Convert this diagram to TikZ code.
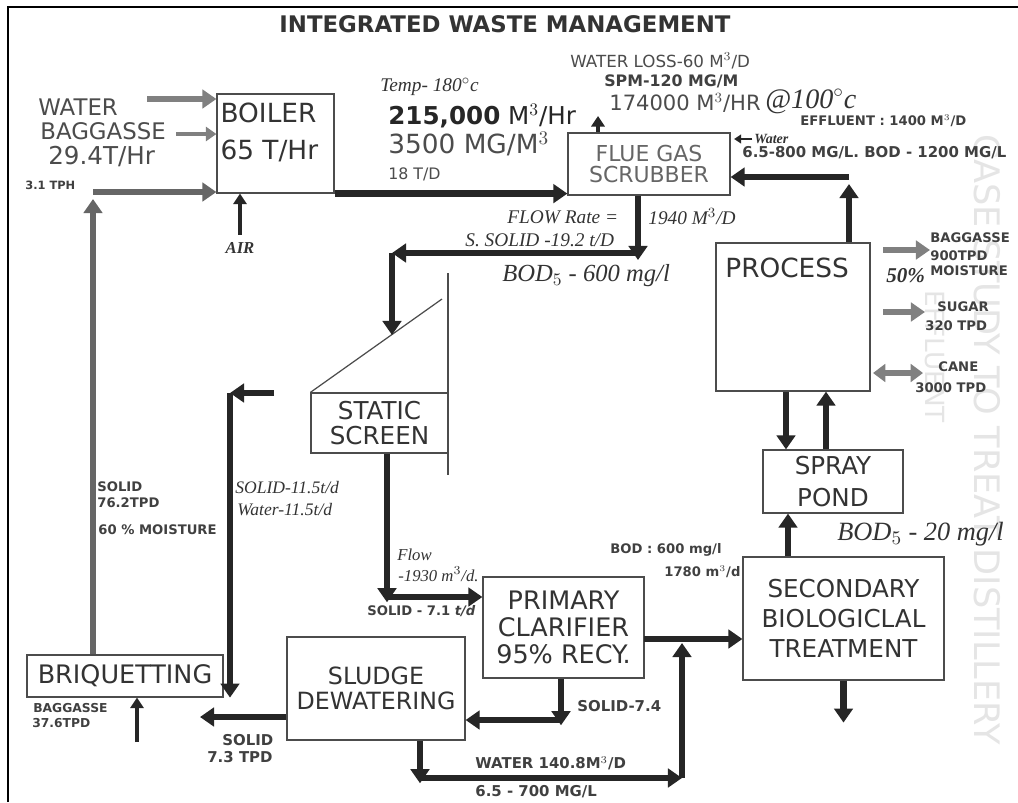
\documentclass[tikz,border=0pt]{standalone}
\usepackage{fontspec}
\setmainfont{DejaVu Sans}
\newfontfamily\handfont{Liberation Serif}
\usetikzlibrary{arrows.meta,calc}

\tikzset{
  unit/.style={draw=black!70, line width=0.7pt, inner sep=0pt, align=center,
    text=black!80, font=\fontsize{14.5}{15.5}\selectfont},
  flow/.style={draw=black!85, line width=3.6pt, -{Triangle[length=8pt,width=10.5pt]}},
  feed/.style={draw=black!50, line width=3pt, -{Triangle[length=8pt,width=10.5pt]}},
  thinflow/.style={draw=black!85, line width=2pt, -{Triangle[length=6pt,width=7.5pt]}},
  note/.style={anchor=west, inner sep=0pt, text=black!75, font=\bfseries\fontsize{7.5}{9}\selectfont},
  plain/.style={anchor=west, inner sep=0pt, text=black!70},
  hand/.style={anchor=west, inner sep=0pt, text=black!80, font=\handfont\itshape\fontsize{11}{12}\selectfont},
  ghost/.style={rotate=-90, inner sep=0pt, text=black!10},
}

\begin{document}
\begin{tikzpicture}[x=0.02cm, y=-0.02cm]
\useasboundingbox (0,0) rectangle (1018,802);
\fill[white] (0,0) rectangle (1018,802);
\draw[black, line width=1.2pt] (8,802) -- (8,7) -- (1018,7);

% faint print from the back of the page
\node[ghost, font=\fontsize{20}{20}\selectfont] at (987,440) {CASE STUDY TO TREAT DISTILLERY};
\node[ghost, font=\fontsize{15}{15}\selectfont] at (935,357) {EFFLUENT};

\node[font=\bfseries\fontsize{13}{15}\selectfont, text=black!80] (title) at (505,24) {INTEGRATED WASTE MANAGEMENT};

% units
\node[unit, minimum width=2.34cm, minimum height=1.98cm] (boiler) at (275.5,143.5) {};
\node[unit, draw=none, align=left, anchor=north west, font=\fontsize{15}{21}\selectfont] (boilername) at (220,102) {BOILER\\65 T/Hr};
\node[unit, minimum width=3.24cm, minimum height=1.24cm, text=black!60, font=\fontsize{12.5}{12}\selectfont] (scrubber) at (649,164) {FLUE GAS\\SCRUBBER};
\node[unit, minimum width=3.08cm, minimum height=2.96cm] (process) at (793,317) {};
\node[plain, text=black!80, font=\fontsize{15}{17}\selectfont] (processname) at (725,268) {PROCESS};
\node[unit, minimum width=2.74cm, minimum height=1.2cm, font=\fontsize{14}{14.7}\selectfont] (screen) at (379.5,423) {STATIC\\SCREEN};
\draw[black!70, line width=0.7pt] (screen.north west) -- (442,299);
\draw[black!70, line width=0.7pt] (448,273) -- (448,475);
\node[unit, minimum width=2.8cm, minimum height=1.26cm, font=\fontsize{14}{18}\selectfont] (spray) at (833,481.5) {SPRAY\\POND};
\node[unit, minimum width=3.22cm, minimum height=2.02cm] (primary) at (563.5,627.5) {PRIMARY\\CLARIFIER\\95\% RECY.};
\node[unit, minimum width=4.02cm, minimum height=2.46cm, font=\fontsize{14}{17}\selectfont] (secondary) at (843.5,618.5) {SECONDARY\\BIOLOGICLAL\\TREATMENT};
\node[unit, minimum width=3.56cm, minimum height=2.06cm, font=\fontsize{13.5}{14.5}\selectfont] (sludge) at (376,688.5) {SLUDGE\\DEWATERING};
\node[unit, minimum width=3.92cm, minimum height=0.84cm] (briq) at (125,676) {BRIQUETTING};

% boiler inputs
\node[plain, font=\fontsize{13}{15}\selectfont] (water) at (38,107) {WATER};
\node[plain, font=\fontsize{13}{15}\selectfont] (bagin) at (40,131) {BAGGASSE};
\node[plain, font=\fontsize{14}{16}\selectfont] (rate) at (48,157) {29.4T/Hr};
\node[note, font=\bfseries\fontsize{6.5}{8}\selectfont] (tphlabel) at (25,185) {3.1 TPH};
\coordinate (wat) at (147,99);
\draw[feed, line width=3.6pt] (wat) -- (wat -| boiler.west);
\coordinate (bag) at (176,134);
\draw[feed, line width=2.4pt, -{Triangle[length=6pt,width=8pt]}] (bag) -- (bag -| boiler.west);
\coordinate (tph) at (93,192);
\draw[feed, draw=black!60] (tph |- briq.north) -- ([yshift=-4pt]tph);
\draw[feed, draw=black!60] (tph) -- (tph -| boiler.west);
\node[hand, anchor=center, font=\handfont\itshape\bfseries\fontsize{9.5}{10}\selectfont] (air) at (240,248) {AIR};
\draw[thinflow] ([yshift=0.15cm]air.north) -- (air.north |- boiler.south);

% boiler to scrubber
\node[hand] (temp) at (380,87) {Temp- 180$^\circ$c};
\node[plain, font=\fontsize{14}{16}\selectfont, text=black!85] (gasflow) at (388,116) {\textbf{215,000} M$^3$/Hr};
\node[plain, font=\fontsize{15}{17}\selectfont] (gasspm) at (388,144) {3500 MG/M$^3$};
\node[plain, font=\fontsize{9}{11}\selectfont] (gasload) at (388,174) {18 T/D};
\draw[flow] (boiler.south east) -- (boiler.south east -| scrubber.west);

% scrubber top
\node[plain, font=\fontsize{9.5}{11}\selectfont] (loss) at (570,61) {WATER LOSS-60 M$^3$/D};
\node[note, font=\bfseries\fontsize{9}{10}\selectfont] (spm) at (604,81) {SPM-120 MG/M};
\node[plain, font=\fontsize{12}{14}\selectfont] (stack) at (609,103) {174000 M$^3$/HR};
\node[hand, font=\handfont\itshape\fontsize{16}{18}\selectfont] (stacktemp) at (765,101) {@100$^\circ$c};
\coordinate (vent) at (598,116);
\draw[thinflow, line width=2.6pt] (vent |- scrubber.north) -- (vent);
\node[hand, font=\handfont\itshape\bfseries\fontsize{8}{9}\selectfont] (waterin) at (754,139) {Water};
\draw[thinflow, line width=1.4pt, -{Triangle[length=4pt,width=5pt]}] ([xshift=-1pt]waterin.west) -- ([xshift=2pt]waterin.west -| scrubber.east);
\node[note, font=\bfseries\fontsize{7.5}{8}\selectfont] (effluent) at (800,121) {EFFLUENT : 1400 M$^3$/D};
\node[note, font=\bfseries\fontsize{8.5}{10}\selectfont] (effquality) at (742,153) {6.5-800 MG/L. BOD - 1200 MG/L};

% process to scrubber
\coordinate (ret) at (849,177);
\draw[flow] (ret |- process.north) -- ([yshift=-4pt]ret);
\draw[flow] (ret) -- (ret -| scrubber.east);

% scrubber to screen
\coordinate (sd) at (638,253);
\coordinate (sl) at (392,253);
\coordinate (sin) at (392,335);
\draw[flow] (sd |- scrubber.south) -- ([yshift=-4pt]sd);
\draw[flow] (sd) -- (sl);
\draw[flow] (sl) -- (sin);
\node[hand] (flowrate) at (507,217) {FLOW Rate =};
\node[hand] (flowrateq) at (648,217) {1940 M$^3$/D};
\node[hand] (ssolid) at (465,240) {S. SOLID -19.2 t/D};
\node[hand, font=\handfont\itshape\fontsize{14}{16}\selectfont] (bodin) at (502,276) {BOD$_5$ - 600 mg/l};

% screen to primary clarifier
\coordinate (pd) at (387,597);
\draw[flow] (pd |- screen.south) -- ([yshift=-3pt]pd);
\draw[flow] (pd) -- (pd -| primary.west);
\node[hand, font=\handfont\itshape\fontsize{9.5}{10}\selectfont] (flowa) at (397,555) {Flow};
\node[hand, font=\handfont\itshape\fontsize{9.5}{10}\selectfont] (flowb) at (398,574) {-1930 m$^3$/d.};
\node[note, font=\bfseries\fontsize{7.5}{8}\selectfont] (solida) at (367,611) {SOLID - 7.1 \textit{t/d}};

% primary to secondary
\coordinate (ps) at (644,639);
\draw[flow] (ps) -- (ps -| secondary.west);
\node[note, font=\bfseries\fontsize{7.5}{8}\selectfont] (bodmid) at (610,550) {BOD : 600 mg/l};
\node[note, font=\bfseries\fontsize{7.5}{8}\selectfont] (flowmid) at (664,572) {1780 m$^3$/d};

% primary to sludge dewatering
\coordinate (sg) at (561,720);
\draw[flow] (sg |- primary.south) -- ([yshift=-3pt]sg);
\draw[flow] (sg) -- (sg -| sludge.east);
\node[note, font=\bfseries\fontsize{8.5}{9}\selectfont] (solidb) at (577,706) {SOLID-7.4};

% sludge dewatering water back to secondary
\coordinate (wa) at (420,778);
\coordinate (wb) at (682,778);
\coordinate (wc) at (682,643);
\draw[flow] (wa |- sludge.south) -- ([yshift=-3pt]wa);
\draw[flow] (wa) -- (wb);
\draw[flow] (wb) -- (wc);
\node[note, font=\bfseries\fontsize{8.5}{9}\selectfont] (waterback) at (475,763) {WATER 140.8M$^3$/D};
\node[note, font=\bfseries\fontsize{8.5}{9}\selectfont] (waterq) at (475,792) {6.5 - 700 MG/L};

% sludge dewatering to briquetting
\coordinate (cake) at (200,717);
\draw[flow] (cake -| sludge.west) -- (cake);
\node[note, font=\bfseries\fontsize{8.5}{9}\selectfont] (solidc) at (222,740) {SOLID};
\node[note, font=\bfseries\fontsize{8.5}{9}\selectfont] (solidd) at (207,757) {7.3 TPD};
\coordinate (ca) at (274,393);
\coordinate (cb) at (230,393);
\draw[flow, line width=3pt] (ca) -- (cb);
\draw[flow, line width=3pt] (cb) -- (cb |- briq.south);
\node[hand, font=\handfont\itshape\fontsize{10}{10}\selectfont] (solide) at (235,488) {SOLID-11.5t/d};
\node[hand, font=\handfont\itshape\fontsize{10}{10}\selectfont] (watere) at (237,510) {Water-11.5t/d};

% briquetting
\node[note] (solidf) at (97,487) {SOLID};
\node[note] (solidg) at (97,503) {76.2TPD};
\node[note] (moist) at (98,530) {60 \% MOISTURE};
\node[note, font=\bfseries\fontsize{7}{8}\selectfont] (bagb) at (33,708) {BAGGASSE};
\node[note, font=\bfseries\fontsize{7}{8}\selectfont] (bagc) at (32,723) {37.6TPD};
\coordinate (bin) at (137,742);
\draw[thinflow] (bin) -- (bin |- briq.south);

% secondary, spray pond, process
\draw[flow] (secondary.south) -- ++(0,42);
\coordinate (up1) at (788,0);
\draw[flow] (up1 |- secondary.north) -- (up1 |- spray.south);
\coordinate (dn) at (786,0);
\draw[flow] (dn |- process.south) -- (dn |- spray.north);
\coordinate (up2) at (826,0);
\draw[flow] (up2 |- spray.north) -- (up2 |- process.south);
\node[hand, font=\handfont\itshape\fontsize{15}{16}\selectfont] (bodout) at (837,534) {BOD$_5$ - 20 mg/l};

% process products
\node[note] (bago) at (930,238) {BAGGASSE};
\node[note] (bagp) at (930,256) {900TPD};
\node[note] (bagq) at (930,271) {MOISTURE};
\node[hand, font=\handfont\itshape\bfseries\fontsize{12}{12}\selectfont] (bagr) at (886,276) {50\%};
\node[note] (sugar) at (937,307) {SUGAR};
\node[note] (sugarq) at (925,326) {320 TPD};
\node[note] (cane) at (938,367) {CANE};
\node[note] (caneq) at (915,388) {3000 TPD};
\coordinate (pa) at (883,250);
\coordinate (pb) at (883,312);
\coordinate (pc) at (873,373);
\draw[feed] (pa) -- (pa -| bago.west);
\draw[feed] (pb) -- ([xshift=-0.24cm]pb -| sugar.west);
\draw[feed, {Triangle[length=7pt,width=10pt]}-{Triangle[length=7pt,width=10pt]}] (pc) -- ([xshift=-0.3cm]pc -| cane.west);
\end{tikzpicture}
\end{document}
